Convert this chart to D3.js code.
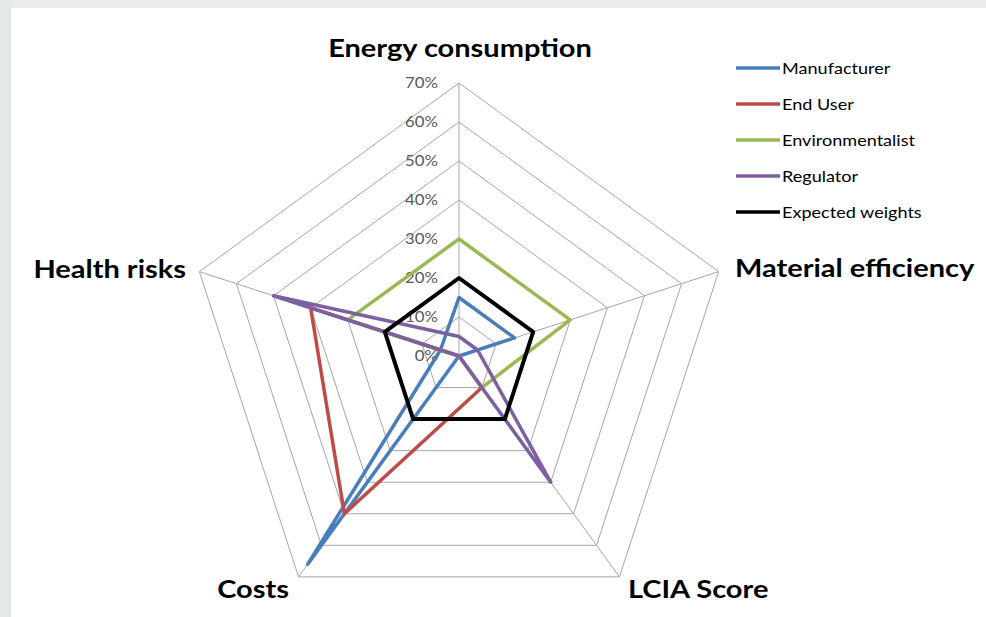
<!DOCTYPE html>
<html>
<head>
<meta charset="utf-8">
<script src="https://cdn.jsdelivr.net/npm/d3@7"></script>
<style>
  html, body { margin: 0; padding: 0; background: #fff; }
  svg { display: block; }
</style>
</head>
<body>
<svg id="chart" width="986" height="617"></svg>
<script>
// Criteria around the radar, clockwise from the top
const categories = ["Energy consumption", "Material efficiency", "LCIA Score", "Costs", "Health risks"];

// Weight given to each criterion by each stakeholder (fractions)
const manufacturer    = [0.15, 0.15, 0.00, 0.66, 0.05];
const endUser         = [0.00, 0.00, 0.10, 0.50, 0.40];
const environmentalist= [0.30, 0.30, 0.10, 0.00, 0.30];
const regulator       = [0.05, 0.05, 0.40, 0.00, 0.50];
const expectedWeights = [0.20, 0.20, 0.20, 0.20, 0.20];

const seriesNames  = ["Manufacturer", "End User", "Environmentalist", "Regulator", "Expected weights"];
const seriesColors = ["#4a7ebb", "#be4b48", "#98b954", "#7d60a0", "#000000"];
const seriesValues = [manufacturer, endUser, environmentalist, regulator, expectedWeights];

const tickValues = [0, 0.1, 0.2, 0.3, 0.4, 0.5, 0.6, 0.7];

const svg = d3.select("#chart");
const W = 986, H = 617;
const FONT = "Lato, 'Open Sans', sans-serif";

// framing strips along the top and left edges
svg.append("rect").attr("x", 0).attr("y", 0).attr("width", W).attr("height", H).attr("fill", "#ffffff");
svg.append("rect").attr("x", 0).attr("y", 0).attr("width", W).attr("height", 8).attr("fill", "#eaecea");
svg.append("rect").attr("x", 0).attr("y", 0).attr("width", 11).attr("height", H).attr("fill", "#e5e9e9");

const cx = 459, cy = 356;
const r = d3.scaleLinear().domain([0, 0.7]).range([0, 273]);
const angle = d3.scaleLinear().domain([0, categories.length]).range([0, 2 * Math.PI]);

const pt = (i, v) => {
  const a = angle(i);
  return [cx + r(v) * Math.sin(a), cy - r(v) * Math.cos(a)];
};

// text drawn in a slightly widened face
function wideText(parent, x, y, sx, anchor) {
  return parent.append("text")
    .attr("transform", `translate(${x},${y}) scale(${sx},1)`)
    .attr("text-anchor", anchor)
    .attr("font-family", FONT);
}

const g = svg.append("g");

// concentric pentagon grid
tickValues.filter(t => t > 0).forEach(t => {
  g.append("polygon")
    .attr("points", categories.map((c, i) => pt(i, t).join(",")).join(" "))
    .attr("fill", "none")
    .attr("stroke", "#a6a6a6")
    .attr("stroke-width", 1);
});

// spokes
categories.forEach((c, i) => {
  const [x, y] = pt(i, 0.7);
  g.append("line")
    .attr("x1", cx).attr("y1", cy).attr("x2", x).attr("y2", y)
    .attr("stroke", "#a6a6a6").attr("stroke-width", 1);
});

// radial tick labels along the top spoke
const fmt = d3.format(".0%");
tickValues.forEach(d => {
  wideText(g, cx - 21, cy - r(d), 1.12, "end")
    .attr("dy", "0.35em")
    .attr("font-size", 15)
    .attr("fill", "#595959")
    .text(fmt(d));
});

// series outlines
const line = d3.line().curve(d3.curveLinearClosed);
seriesValues.forEach((vals, s) => {
  g.append("path")
    .attr("d", line(vals.map((v, i) => pt(i, v))))
    .attr("fill", "none")
    .attr("stroke", seriesColors[s])
    .attr("stroke-width", s === 4 ? 4 : 3.5)
    .attr("stroke-linejoin", "round")
    .attr("stroke-linecap", "round");
});

// category labels
const labelPos = [
  { x: 460, y: 57, anchor: "middle" },
  { x: 735, y: 277, anchor: "start" },
  { x: 628, y: 598, anchor: "start" },
  { x: 289, y: 598, anchor: "end" },
  { x: 186, y: 278, anchor: "end" }
];
categories.forEach((c, i) => {
  wideText(g, labelPos[i].x, labelPos[i].y, 1.16, labelPos[i].anchor)
    .attr("font-weight", "bold")
    .attr("font-size", 25)
    .attr("fill", "#000")
    .text(c);
});

// legend
const legendY = d3.scalePoint().domain(seriesNames).range([68, 212]);
const legend = g.append("g");
seriesNames.forEach((n, s) => {
  const y = legendY(n);
  legend.append("line")
    .attr("x1", 736).attr("x2", 780).attr("y1", y).attr("y2", y)
    .attr("stroke", seriesColors[s]).attr("stroke-width", 3.5);
  wideText(legend, 782, y, 1.13, "start")
    .attr("dy", "0.35em")
    .attr("font-size", 16)
    .attr("fill", "#000")
    .text(n);
});
</script>
</body>
</html>
